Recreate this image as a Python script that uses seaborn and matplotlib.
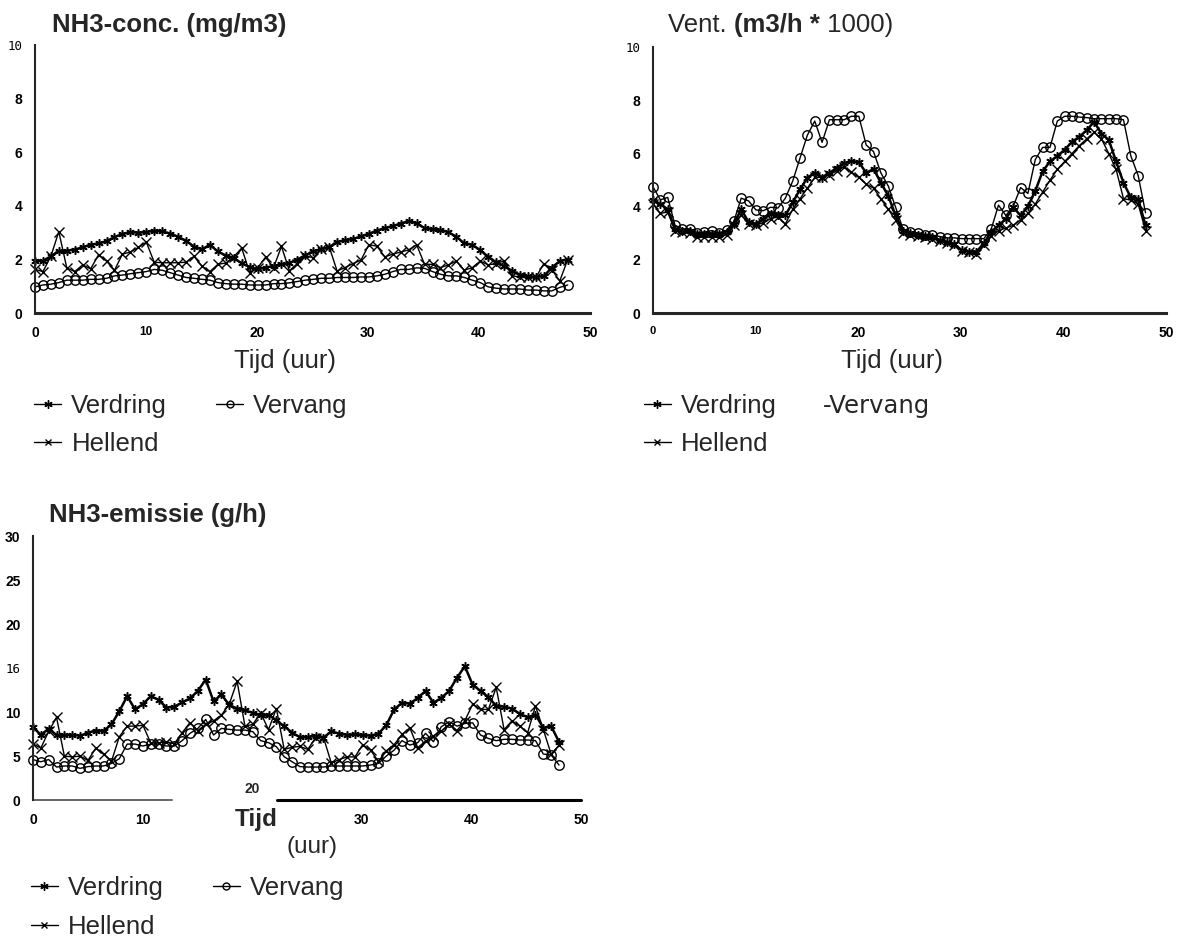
import numpy as np
import seaborn as sns
import matplotlib.pyplot as plt
from matplotlib.lines import Line2D

# time axis: one reading about every 43 minutes over two days
hours = np.linspace(0, 48, 68)

# NH3 concentration (mg/m3)
conc_verdring = [1.96, 1.95, 2.12, 2.31, 2.33, 2.37, 2.46, 2.55, 2.6, 2.68,
                 2.84, 2.95, 3.02, 3.0, 3.02, 3.08, 3.05, 2.97, 2.85, 2.7,
                 2.48, 2.38, 2.55, 2.3, 2.15, 2.05, 1.86, 1.72, 1.63, 1.7,
                 1.76, 1.82, 1.87, 2.0, 2.16, 2.3, 2.38, 2.45, 2.65, 2.72,
                 2.77, 2.86, 2.96, 3.08, 3.17, 3.25, 3.34, 3.44, 3.35, 3.17,
                 3.13, 3.1, 3.02, 2.85, 2.6, 2.55, 2.35, 2.1, 1.9, 1.75,
                 1.58, 1.43, 1.37, 1.35, 1.38, 1.7, 1.94, 2.0]
conc_vervang = [0.98, 1.05, 1.08, 1.14, 1.23, 1.23, 1.23, 1.26, 1.26, 1.3,
                1.39, 1.42, 1.47, 1.51, 1.55, 1.63, 1.6, 1.51, 1.42, 1.33,
                1.3, 1.26, 1.23, 1.14, 1.1, 1.08, 1.08, 1.05, 1.05, 1.05,
                1.1, 1.1, 1.13, 1.18, 1.23, 1.26, 1.3, 1.3, 1.33, 1.33,
                1.33, 1.35, 1.35, 1.39, 1.45, 1.55, 1.63, 1.63, 1.69, 1.67,
                1.55, 1.45, 1.39, 1.39, 1.33, 1.23, 1.14, 0.98, 0.93, 0.9,
                0.9, 0.9, 0.86, 0.86, 0.83, 0.83, 0.96, 1.05]
conc_hellend = [1.63, 1.55, 2.12, 3.04, 1.69, 1.55, 1.8, 1.65, 2.18, 1.94,
                1.6, 2.2, 2.28, 2.45, 2.65, 1.9, 1.88, 1.88, 1.88, 1.9,
                2.12, 1.75, 1.55, 1.82, 1.87, 2.1, 2.43, 1.51, 1.69, 2.09,
                1.69, 2.49, 1.58, 1.85, 2.15, 2.06, 2.4, 2.48, 1.57, 1.7,
                1.85, 1.98, 2.55, 2.5, 2.1, 2.2, 2.28, 2.36, 2.55, 1.82,
                1.82, 1.7, 1.8, 1.94, 1.6, 1.7, 1.94, 1.8, 1.85, 1.95,
                1.39, 1.35, 1.33, 1.33, 1.85, 1.62, 1.2, 2.0]

# ventilation (m3/h * 1000)
vent_verdring = [4.26, 4.1, 3.9, 3.17, 3.1, 3.1, 2.99, 2.99, 2.99, 2.99,
                 3.05, 3.36, 3.9, 3.42, 3.36, 3.54, 3.73, 3.69, 3.67, 4.16,
                 4.65, 5.09, 5.27, 5.09, 5.27, 5.46, 5.64, 5.7, 5.68, 5.27,
                 5.42, 4.9, 4.41, 3.67, 3.1, 3.02, 2.95, 2.9, 2.86, 2.74,
                 2.68, 2.58, 2.37, 2.31, 2.31, 2.62, 3.05, 3.3, 3.54, 3.98,
                 3.67, 4.01, 4.59, 5.33, 5.7, 5.91, 6.14, 6.44, 6.63, 6.88,
                 7.19, 6.75, 6.51, 5.7, 4.9, 4.35, 4.28, 3.3]
vent_vervang = [4.75, 4.26, 4.35, 3.3, 3.17, 3.17, 3.02, 3.05, 3.1, 3.02,
                3.11, 3.45, 4.32, 4.22, 3.88, 3.85, 3.98, 3.95, 4.32, 4.96,
                5.83, 6.69, 7.22, 6.42, 7.27, 7.27, 7.27, 7.4, 7.4, 6.32,
                6.07, 5.27, 4.78, 3.98, 3.17, 3.05, 3.02, 2.95, 2.93, 2.88,
                2.83, 2.83, 2.8, 2.8, 2.8, 2.8, 3.15, 4.06, 3.67, 4.01,
                4.72, 4.5, 5.77, 6.23, 6.23, 7.22, 7.4, 7.4, 7.37, 7.35,
                7.31, 7.31, 7.31, 7.31, 7.27, 5.91, 5.17, 3.77]
vent_hellend = [4.1, 3.75, 3.8, 3.1, 3.05, 3.0, 2.85, 2.85, 2.85, 2.85,
                2.95, 3.3, 3.7, 3.35, 3.3, 3.4, 3.55, 3.62, 3.35, 3.9,
                4.3, 4.7, 5.1, 5.1, 5.2, 5.35, 5.5, 5.3, 5.1, 4.85,
                4.7, 4.3, 3.9, 3.5, 3.0, 2.95, 2.9, 2.85, 2.8, 2.72,
                2.65, 2.55, 2.35, 2.3, 2.22, 2.55, 2.9, 3.1, 3.2, 3.3,
                3.5, 3.75, 4.1, 4.55, 5.0, 5.4, 5.7, 6.0, 6.3, 6.55,
                6.8, 6.55, 6.0, 5.4, 4.3, 4.25, 4.1, 3.1]

# NH3 emission (g/h)
emis_verdring = [8.3, 7.4, 8.1, 7.4, 7.4, 7.4, 7.3, 7.65, 7.9, 7.85,
                 8.6, 10.1, 11.8, 10.3, 10.9, 11.8, 11.4, 10.5, 10.6, 11.1,
                 11.55, 12.4, 13.7, 11.2, 12.0, 10.8, 10.4, 10.2, 9.9, 9.65,
                 9.7, 9.05, 8.4, 7.65, 7.15, 7.15, 7.3, 7.1, 7.8, 7.55,
                 7.4, 7.45, 7.4, 7.3, 7.55, 8.5, 10.3, 11.05, 10.95, 11.6,
                 12.4, 11.05, 11.6, 12.4, 13.9, 15.2, 13.1, 12.4, 11.7, 10.7,
                 10.6, 10.4, 9.8, 9.4, 9.7, 8.2, 8.4, 6.6]
emis_vervang = [4.6, 4.35, 4.6, 3.75, 3.87, 3.87, 3.6, 3.8, 3.87, 3.87,
                4.16, 4.7, 6.36, 6.36, 6.14, 6.36, 6.36, 6.14, 6.14, 6.75,
                7.58, 8.14, 9.16, 7.39, 8.14, 8.03, 7.95, 7.95, 7.77, 6.75,
                6.52, 6.06, 4.92, 4.35, 3.8, 3.75, 3.75, 3.75, 3.87, 3.87,
                3.87, 3.87, 3.87, 3.98, 4.16, 5.0, 5.68, 6.75, 6.25, 6.52,
                7.58, 6.63, 8.33, 8.9, 8.4, 8.7, 8.78, 7.39, 7.0, 6.75,
                6.9, 6.9, 6.82, 6.82, 6.75, 5.23, 5.11, 3.98]
emis_hellend = [6.4, 5.9, 7.8, 9.4, 5.0, 4.9, 5.0, 4.5, 5.9, 5.2,
                4.4, 7.2, 8.4, 8.4, 8.5, 6.5, 6.5, 6.6, 6.4, 7.65,
                8.8, 7.9, 8.6, 9.0, 9.65, 10.9, 13.5, 8.4, 8.6, 9.9,
                8.0, 10.4, 5.75, 6.0, 6.1, 5.75, 7.1, 7.1, 4.2, 4.6,
                4.9, 4.9, 6.3, 5.65, 4.4, 5.6, 6.3, 7.45, 8.2, 5.95,
                6.7, 7.3, 7.85, 8.6, 7.9, 9.0, 10.9, 10.3, 10.3, 12.8,
                8.0, 9.0, 8.4, 7.65, 10.7, 8.0, 5.2, 6.25]

x_ticks = [0, 10, 20, 30, 40, 50]
conc_yticks = [0, 2, 4, 6, 8, 10]
emis_yticks = [0, 5, 10, 15, 20, 25, 30]
emis_ylabels = ['0', '5', '10', '16', '20', '25', '30']

sns.set_style('white')
plt.rcParams['font.family'] = ['Liberation Sans', 'DejaVu Sans']

ASTER = (6, 2, 0)
TITLE_SIZE = 18.5
LABEL_SIZE = 18.5


def draw_series(ax, verdring, vervang, hellend):
    sns.lineplot(x=hours, y=verdring, ax=ax, color='black', linewidth=1.8,
                 marker=ASTER, markersize=6, markeredgecolor='black',
                 markeredgewidth=1.1, clip_on=False)
    sns.lineplot(x=hours, y=vervang, ax=ax, color='black', linewidth=1.0,
                 marker='o', markersize=6.8, markerfacecolor='none',
                 markeredgecolor='black', markeredgewidth=1.0, clip_on=False)
    sns.lineplot(x=hours, y=hellend, ax=ax, color='black', linewidth=1.0,
                 marker='x', markersize=7, markeredgecolor='black',
                 markeredgewidth=1.0, clip_on=False)


def style_axis(ax, ymax, yticks, ylabels, mono_label):
    ax.set_xlim(0, 50)
    ax.set_ylim(0, ymax)
    sns.despine(ax=ax)
    ax.spines['left'].set_linewidth(1.5)
    ax.spines['bottom'].set_linewidth(2.2)
    ax.set_yticks(yticks)
    ax.set_yticklabels(ylabels, fontweight='bold', fontsize=10)
    ax.tick_params(direction='in', length=5, width=1.2, colors='black')
    ax.tick_params(axis='y', pad=9)
    ax.tick_params(axis='x', pad=9)
    for lbl in ax.get_yticklabels():
        if lbl.get_text() == mono_label:
            lbl.set_fontfamily('DejaVu Sans Mono')
            lbl.set_fontweight('normal')
            lbl.set_fontsize(9)


def add_legend(anchor, spacing, colspace, vervang_marker=True):
    h_verdring = Line2D([], [], color='black', lw=1, marker=ASTER, ms=6)
    h_hellend = Line2D([], [], color='black', lw=1, marker='x', ms=5)
    if vervang_marker:
        h_vervang = Line2D([], [], color='black', lw=1, marker='o', ms=5,
                           mfc='none')
        lab = 'Vervang'
    else:
        h_vervang = Line2D([], [], lw=0)
        lab = '-Vervang'
    leg = fig.legend([h_verdring, h_hellend, h_vervang],
                     ['Verdring', 'Hellend', lab], ncol=2, loc='upper left',
                     bbox_to_anchor=anchor, frameon=False, fontsize=LABEL_SIZE,
                     handlelength=1.05, handletextpad=0.4,
                     columnspacing=colspace, labelspacing=spacing,
                     borderaxespad=0, borderpad=0)
    if not vervang_marker:
        leg.get_texts()[2].set_fontfamily('DejaVu Sans')
        leg.get_texts()[2].set_fontsize(17.5)
    return leg


fig = plt.figure(figsize=(11.77, 9.46), dpi=100)
ax1 = fig.add_axes([0.0297, 0.669, 0.4715, 0.2833])
ax2 = fig.add_axes([0.5548, 0.669, 0.4359, 0.2812])
ax3 = fig.add_axes([0.028, 0.1543, 0.4656, 0.279])

# panel 1
draw_series(ax1, conc_verdring, conc_vervang, conc_hellend)
style_axis(ax1, 10, conc_yticks, [str(v) for v in conc_yticks], '10')
ax1.set_xticks(x_ticks)
ax1.set_xticklabels([str(v) for v in x_ticks], fontweight='bold', fontsize=10)
ax1.get_xticklabels()[1].set_fontsize(8.5)
ax1.text(0.03, 1.075, 'NH3-conc. (mg/m3)', transform=ax1.transAxes,
         fontsize=TITLE_SIZE, fontweight='bold', va='center')
ax1.annotate('Tijd (uur)', xy=(0.45, 0), xycoords='axes fraction',
             xytext=(0, -26), textcoords='offset points', ha='center',
             va='top', fontsize=LABEL_SIZE)
add_legend((0.029, 0.5835), 0.55, 1.9)

# panel 2
draw_series(ax2, vent_verdring, vent_vervang, vent_hellend)
style_axis(ax2, 10, conc_yticks, [str(v) for v in conc_yticks], '10')
ax2.set_xticks(x_ticks)
ax2.set_xticklabels([str(v) for v in x_ticks], fontweight='bold', fontsize=10)
for lbl in ax2.get_xticklabels()[:2]:
    lbl.set_fontsize(8)
t1 = ax2.text(0.03, 1.083, 'Vent. ', transform=ax2.transAxes,
              fontsize=TITLE_SIZE, va='center')
t2 = ax2.annotate('(m3/h *', xy=(1, 0.5), xycoords=t1, va='center',
                  fontsize=TITLE_SIZE, fontweight='bold')
ax2.annotate(' 1000)', xy=(1, 0.5), xycoords=t2, va='center',
             fontsize=TITLE_SIZE)
ax2.annotate('Tijd (uur)', xy=(0.466, 0), xycoords='axes fraction',
             xytext=(0, -26), textcoords='offset points', ha='center',
             va='top', fontsize=LABEL_SIZE)
add_legend((0.547, 0.5835), 0.55, 0.35, vervang_marker=False)

# panel 3
draw_series(ax3, emis_verdring, emis_vervang, emis_hellend)
style_axis(ax3, 30, emis_yticks, emis_ylabels, '16')
ax3.spines['bottom'].set_visible(False)
ax3.axhline(0, xmin=0, xmax=0.254, lw=1.3, color='0.35', clip_on=False)
ax3.axhline(0, xmin=0.446, xmax=1, lw=2.2, color='black', clip_on=False)
ax3.set_xticks([0, 10, 30, 40, 50])
ax3.set_xticklabels(['0', '10', '30', '40', '50'], fontweight='bold',
                    fontsize=10)
ax3.annotate('20', xy=(20, 0), xytext=(0, 3), textcoords='offset points',
             ha='center', va='bottom', fontsize=10, fontweight='bold')
ax3.annotate('Tijd', xy=(20.4, 0), xytext=(0, -5.5), textcoords='offset points',
             ha='center', va='top', fontsize=17.5, fontweight='bold')
ax3.annotate('(uur)', xy=(25.5, 0), xytext=(0, -26), textcoords='offset points',
             ha='center', va='top', fontsize=17.5)
ax3.text(0.03, 1.08, 'NH3-emissie (g/h)', transform=ax3.transAxes,
         fontsize=TITLE_SIZE, fontweight='bold', va='center')
add_legend((0.026, 0.0735), 0.55, 1.9)

fig.savefig('out.png', dpi=100)
plt.close(fig)
